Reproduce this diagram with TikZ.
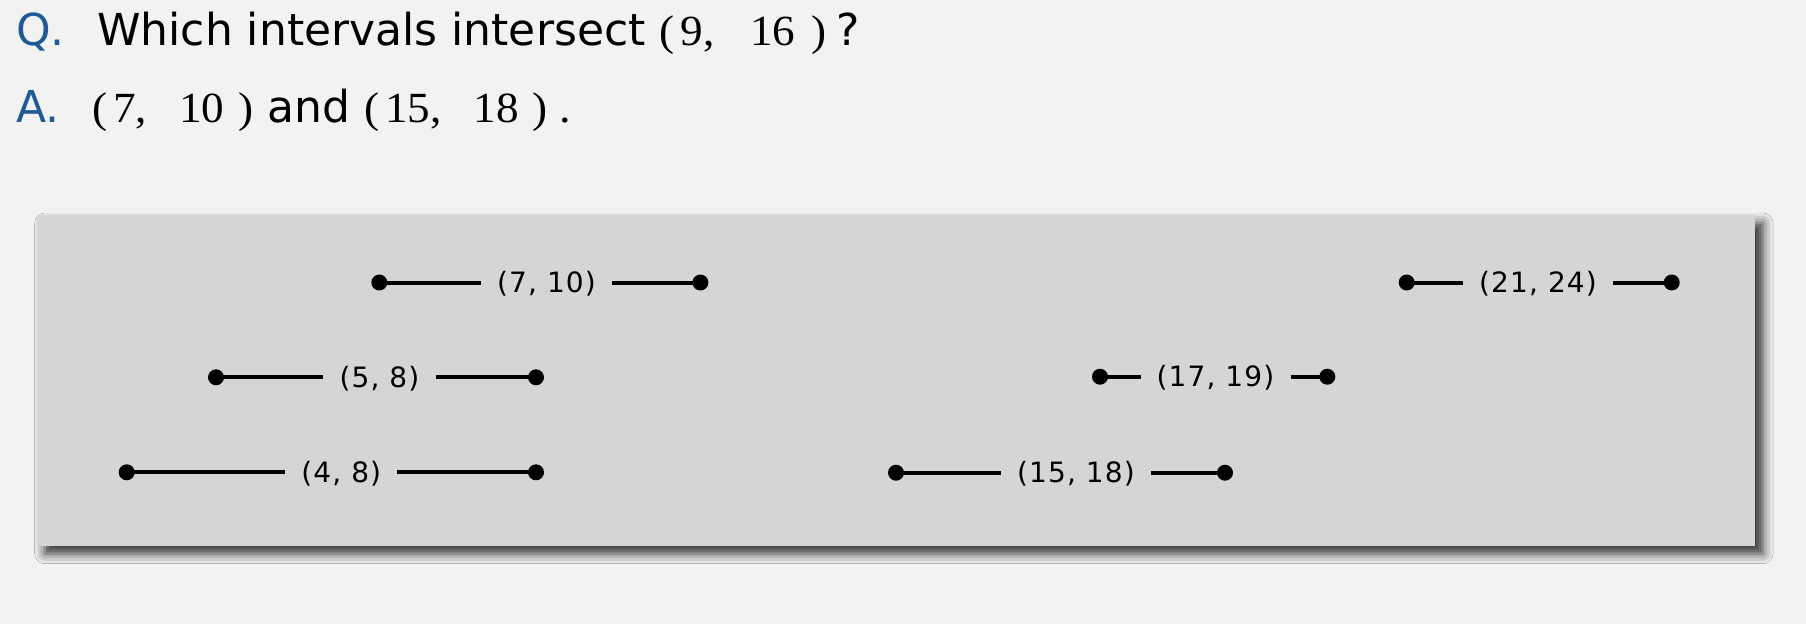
\documentclass[tikz,border=0pt]{standalone}
\usepackage{fontspec}
\setmainfont{DejaVu Sans}
\newfontfamily\lblfont[LetterSpace=4]{DejaVu Sans}
\newfontfamily\seriffont[FakeStretch=1.05]{Liberation Serif}
\usetikzlibrary{shadows.blur}
\definecolor{bgc}{HTML}{F2F2F2}
\definecolor{boxc}{HTML}{D5D5D5}
\definecolor{qblue}{HTML}{1F5A96}
% #1,#2 numbers; #3 gap after comma; #4 gap before closing paren
\newcommand{\pair}[4]{{\seriffont\fontsize{43}{50}\selectfont(\hspace{6pt}#1,\hspace{#3}#2\hspace{#4})}}
\begin{document}
\begin{tikzpicture}[x=1pt,y=-1pt,
  dot/.style={circle,fill=black,inner sep=0pt,minimum size=16pt},
  seg/.style={line width=4pt},
  ilabel/.style={inner xsep=16pt,inner ysep=0pt,anchor=base,font=\lblfont\fontsize{28}{32}\selectfont},
  qa/.style={anchor=base west,inner sep=0pt,font=\fontsize{44}{50}\selectfont},
  panel/.style={fill=boxc,blur shadow={shadow xshift=8pt,shadow yshift=-8pt,shadow blur radius=10pt,shadow opacity=80}}]
\fill[bgc] (0,0) rectangle (1806,624);
\useasboundingbox (0,0) rectangle (1806,624);
% question and answer
\node[qa,text=qblue] (q) at (16,45) {Q.};
\node[qa] (qt) at (97,45) {Which intervals intersect \pair{9}{16}{36pt}{16pt}\hspace{10pt}?};
\node[qa,text=qblue] (a) at (16,122) {A.};
\node[qa] (at) at (92,122) {\pair{7}{10}{32pt}{14pt}\hspace{14pt}and \pair{15}{18}{32pt}{14pt}\hspace{12pt}{\seriffont.}};
% panel
\path[panel] (36.7,215) rectangle (1755,545.7);
% intervals
\newcommand{\interval}[6]{%
  \node[dot] (#1l) at (#2,#5) {};
  \node[dot] (#1r) at (#3,#5) {};
  \node[ilabel] (#1t) at (#4,#5+10) {#6};
  \draw[seg] (#1l.center) -- (#1t.west |- #1l.center);
  \draw[seg] (#1t.east |- #1r.center) -- (#1r.center);}
\interval{a}{379.3}{700.4}{546.5}{282.5}{(7, 10)}
\interval{b}{1406.7}{1671.7}{1538}{282.5}{(21, 24)}
\interval{c}{216}{536}{379.5}{377.3}{(5, 8)}
\interval{d}{1100}{1327.3}{1215.5}{376.7}{(17, 19)}
\interval{e}{126.7}{536}{341.3}{472.3}{(4, 8)}
\interval{f}{896}{1225}{1076}{472.7}{(15, 18)}
\end{tikzpicture}
\end{document}
